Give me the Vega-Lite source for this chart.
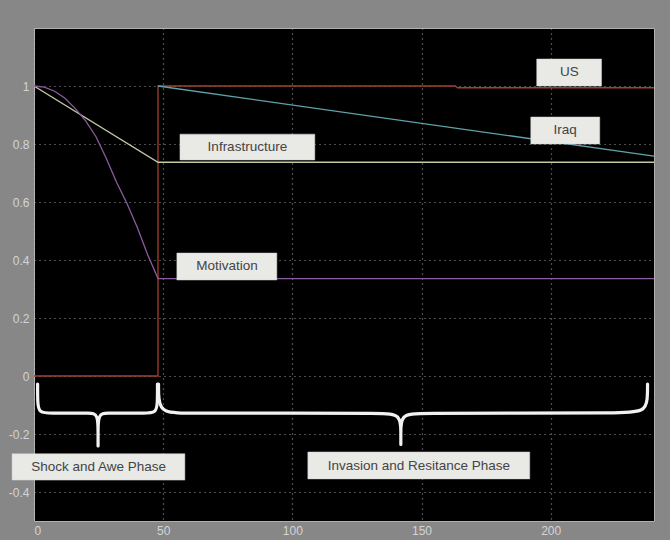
{
  "$schema": "https://vega.github.io/schema/vega-lite/v6.json",
  "autosize": "none",
  "width": 620,
  "height": 493,
  "padding": {"left": 34, "top": 28, "right": 16, "bottom": 19},
  "background": "#878787",
  "config": {
    "view": {"fill": "#000000", "stroke": "#b0b0b0", "strokeWidth": 1},
    "axis": {
      "labelColor": "#d4d4d4",
      "labelFont": "Liberation Sans",
      "labelFontSize": 12,
      "ticks": false,
      "domain": false,
      "grid": true,
      "gridColor": "#c0c0c0",
      "gridDash": [1, 4],
      "gridWidth": 1.2,
      "gridOpacity": 0.8,
      "title": null
    }
  },
  "datasets": {
    "series": [
      {"name": "US", "i": 1, "x": 0, "y": 0},
      {"name": "US", "i": 2, "x": 48, "y": 0},
      {"name": "US", "i": 3, "x": 48, "y": 1},
      {"name": "US", "i": 4, "x": 163, "y": 1},
      {"name": "US", "i": 5, "x": 164, "y": 0.994},
      {"name": "US", "i": 6, "x": 240, "y": 0.994},
      {"name": "Iraq", "i": 1, "x": 48, "y": 1},
      {"name": "Iraq", "i": 2, "x": 240, "y": 0.758},
      {"name": "Infrastructure", "i": 1, "x": 0, "y": 1},
      {"name": "Infrastructure", "i": 2, "x": 48, "y": 0.737},
      {"name": "Infrastructure", "i": 3, "x": 240, "y": 0.737},
      {"name": "Motivation", "i": 1, "x": 0, "y": 1},
      {"name": "Motivation", "i": 2, "x": 4, "y": 0.996},
      {"name": "Motivation", "i": 3, "x": 8, "y": 0.982},
      {"name": "Motivation", "i": 4, "x": 12, "y": 0.958},
      {"name": "Motivation", "i": 5, "x": 16, "y": 0.922},
      {"name": "Motivation", "i": 6, "x": 20, "y": 0.88},
      {"name": "Motivation", "i": 7, "x": 24, "y": 0.825},
      {"name": "Motivation", "i": 8, "x": 28, "y": 0.75},
      {"name": "Motivation", "i": 9, "x": 32, "y": 0.667},
      {"name": "Motivation", "i": 10, "x": 36, "y": 0.595},
      {"name": "Motivation", "i": 11, "x": 40, "y": 0.512},
      {"name": "Motivation", "i": 12, "x": 44, "y": 0.418},
      {"name": "Motivation", "i": 13, "x": 48, "y": 0.336},
      {"name": "Motivation", "i": 14, "x": 240, "y": 0.336}
    ],
    "braces": [
      {"brace": "shock", "i": 1, "x": 1.4, "y": -0.028},
      {"brace": "shock", "i": 2, "x": 1.4, "y": -0.09},
      {"brace": "shock", "i": 3, "x": 1.8, "y": -0.128},
      {"brace": "shock", "i": 4, "x": 7, "y": -0.128},
      {"brace": "shock", "i": 5, "x": 14, "y": -0.128},
      {"brace": "shock", "i": 6, "x": 21.5, "y": -0.128},
      {"brace": "shock", "i": 7, "x": 24.8, "y": -0.13},
      {"brace": "shock", "i": 8, "x": 24.8, "y": -0.2},
      {"brace": "shock", "i": 9, "x": 24.8, "y": -0.241},
      {"brace": "shock", "i": 10, "x": 24.8, "y": -0.241},
      {"brace": "shock", "i": 11, "x": 24.8, "y": -0.241},
      {"brace": "shock", "i": 12, "x": 24.8, "y": -0.2},
      {"brace": "shock", "i": 13, "x": 24.8, "y": -0.13},
      {"brace": "shock", "i": 14, "x": 28.1, "y": -0.128},
      {"brace": "shock", "i": 15, "x": 36, "y": -0.128},
      {"brace": "shock", "i": 16, "x": 42.5, "y": -0.128},
      {"brace": "shock", "i": 17, "x": 47.4, "y": -0.128},
      {"brace": "shock", "i": 18, "x": 47.8, "y": -0.09},
      {"brace": "shock", "i": 19, "x": 47.8, "y": -0.028},
      {"brace": "invasion", "i": 1, "x": 48.2, "y": -0.028},
      {"brace": "invasion", "i": 2, "x": 48.2, "y": -0.08},
      {"brace": "invasion", "i": 3, "x": 49.5, "y": -0.128},
      {"brace": "invasion", "i": 4, "x": 60, "y": -0.128},
      {"brace": "invasion", "i": 5, "x": 100, "y": -0.128},
      {"brace": "invasion", "i": 6, "x": 135, "y": -0.128},
      {"brace": "invasion", "i": 7, "x": 142, "y": -0.132},
      {"brace": "invasion", "i": 8, "x": 142, "y": -0.2},
      {"brace": "invasion", "i": 9, "x": 142, "y": -0.236},
      {"brace": "invasion", "i": 10, "x": 142, "y": -0.236},
      {"brace": "invasion", "i": 11, "x": 142, "y": -0.236},
      {"brace": "invasion", "i": 12, "x": 142, "y": -0.2},
      {"brace": "invasion", "i": 13, "x": 142, "y": -0.132},
      {"brace": "invasion", "i": 14, "x": 149, "y": -0.128},
      {"brace": "invasion", "i": 15, "x": 190, "y": -0.128},
      {"brace": "invasion", "i": 16, "x": 226, "y": -0.128},
      {"brace": "invasion", "i": 17, "x": 236.5, "y": -0.124},
      {"brace": "invasion", "i": 18, "x": 237.5, "y": -0.08},
      {"brace": "invasion", "i": 19, "x": 237.5, "y": -0.028}
    ],
    "labels": [
      {"label": "US", "x": 207.2, "y": 1.047, "x1": 194.6, "x2": 219.7, "y1": 1.0, "y2": 1.093},
      {"label": "Iraq", "x": 205.6, "y": 0.847, "x1": 192.3, "x2": 219.0, "y1": 0.8, "y2": 0.893},
      {"label": "Infrastructure", "x": 82.6, "y": 0.79, "x1": 56.5, "x2": 108.7, "y1": 0.745, "y2": 0.834},
      {"label": "Motivation", "x": 74.7, "y": 0.378, "x1": 55.3, "x2": 94.0, "y1": 0.331, "y2": 0.424},
      {"label": "Shock and Awe Phase", "x": 25.0, "y": -0.313, "x1": -8.5, "x2": 58.4, "y1": -0.359, "y2": -0.268},
      {"label": "Invasion and Resitance Phase", "x": 149.0, "y": -0.309, "x1": 106.0, "x2": 191.9, "y1": -0.355, "y2": -0.262}
    ]
  },
  "encoding": {
    "x": {"field": "x", "type": "quantitative", "scale": {"domain": [0, 240], "nice": false, "zero": false},
          "axis": {"values": [0, 50, 100, 150, 200], "labelPadding": 4}},
    "y": {"field": "y", "type": "quantitative", "scale": {"domain": [-0.5, 1.2], "nice": false, "zero": false},
          "axis": {"values": [-0.4, -0.2, 0, 0.2, 0.4, 0.6, 0.8, 1], "labelPadding": 5, "labelExpr": "'' + datum.value"}}
  },
  "layer": [
    {
      "data": {"name": "series"},
      "mark": {"type": "line", "strokeWidth": 1.3, "clip": true},
      "encoding": {
        "color": {"field": "name", "type": "nominal", "legend": null,
                  "scale": {"domain": ["US", "Iraq", "Infrastructure", "Motivation"],
                            "range": ["#a3402f", "#5ea3ab", "#c4c8a4", "#8a5c9e"]}},
        "order": {"field": "i", "type": "quantitative"}
      }
    },
    {
      "data": {"name": "braces"},
      "mark": {"type": "line", "interpolate": "basis", "stroke": "#f2f2f2", "strokeWidth": 3.2, "strokeCap": "round", "strokeJoin": "round"},
      "encoding": {
        "detail": {"field": "brace", "type": "nominal"},
        "order": {"field": "i", "type": "quantitative"}
      }
    },
    {
      "data": {"name": "labels"},
      "mark": {"type": "rect", "fill": "#e9e9e6", "stroke": "#d0d0d0", "strokeWidth": 0.5},
      "encoding": {
        "x": {"field": "x1", "type": "quantitative"},
        "x2": {"field": "x2"},
        "y": {"field": "y1", "type": "quantitative"},
        "y2": {"field": "y2"}
      }
    },
    {
      "data": {"name": "labels"},
      "mark": {"type": "text", "font": "Liberation Sans", "fontSize": 13.5, "color": "#444444", "align": "center", "baseline": "middle"},
      "encoding": {
        "text": {"field": "label", "type": "nominal"}
      }
    }
  ]
}
